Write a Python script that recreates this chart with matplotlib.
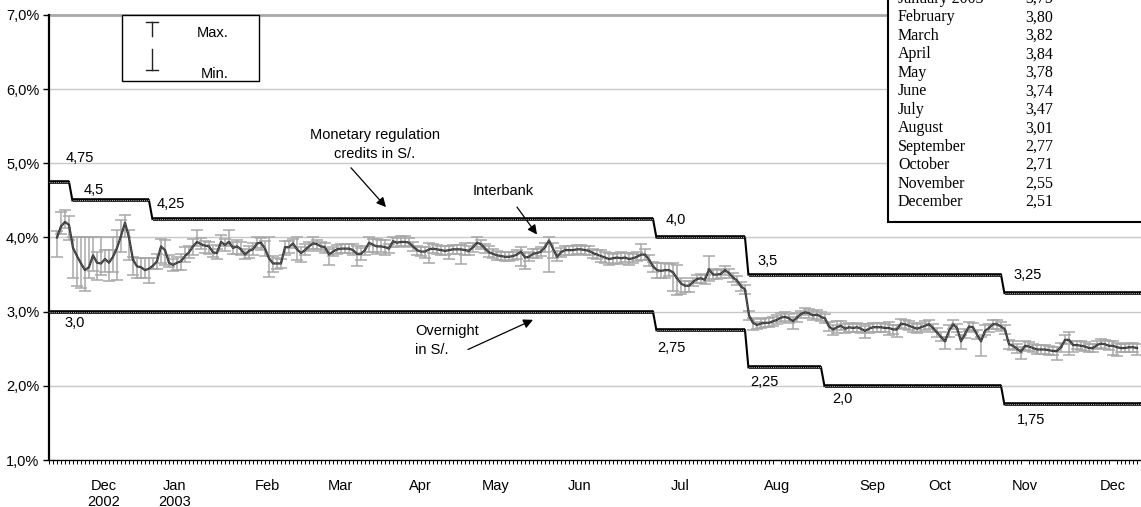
import numpy as np
import matplotlib.pyplot as plt
from matplotlib.patches import Rectangle
from matplotlib.lines import Line2D

plt.rcParams['font.family'] = ['Liberation Sans', 'DejaVu Sans']

# business days on the x axis, day 0 = late Nov 2002
n_days = 273
first_ib_day = 2

# daily interbank rate (%), from day 2 onward
interbank = [
    4.00, 4.15, 4.21, 4.17, 3.86, 3.75, 3.65, 3.56, 3.60, 3.76,
    3.66, 3.65, 3.71, 3.66, 3.74, 3.86, 4.02, 4.20, 4.00, 3.70,
    3.61, 3.60, 3.56, 3.58, 3.62, 3.68, 3.88, 3.83, 3.66, 3.63,
    3.66, 3.68, 3.75, 3.80, 3.88, 3.94, 3.91, 3.89, 3.88, 3.80,
    3.79, 3.94, 3.90, 3.94, 3.86, 3.88, 3.84, 3.77, 3.82, 3.84,
    3.92, 3.93, 3.85, 3.72, 3.65, 3.65, 3.65, 3.87, 3.87, 3.92,
    3.84, 3.79, 3.83, 3.88, 3.92, 3.91, 3.88, 3.87, 3.77, 3.81,
    3.84, 3.85, 3.85, 3.85, 3.83, 3.78, 3.78, 3.83, 3.93, 3.90,
    3.88, 3.88, 3.87, 3.85, 3.95, 3.93, 3.94, 3.94, 3.93, 3.88,
    3.83, 3.81, 3.81, 3.84, 3.85, 3.84, 3.83, 3.82, 3.83, 3.84,
    3.84, 3.84, 3.83, 3.82, 3.87, 3.93, 3.91, 3.85, 3.80, 3.78,
    3.76, 3.75, 3.74, 3.74, 3.75, 3.77, 3.81, 3.73, 3.74, 3.78,
    3.79, 3.81, 3.87, 3.96, 3.85, 3.74, 3.80, 3.83, 3.83, 3.83,
    3.84, 3.84, 3.83, 3.82, 3.79, 3.77, 3.75, 3.73, 3.71, 3.72,
    3.73, 3.72, 3.73, 3.71, 3.72, 3.74, 3.77, 3.77, 3.70, 3.61,
    3.56, 3.55, 3.56, 3.56, 3.53, 3.45, 3.38, 3.35, 3.35, 3.40,
    3.44, 3.45, 3.43, 3.57, 3.50, 3.50, 3.51, 3.56, 3.52, 3.46,
    3.42, 3.34, 3.30, 2.95, 2.85, 2.82, 2.84, 2.85, 2.85, 2.87,
    2.89, 2.92, 2.93, 2.91, 2.87, 2.92, 2.97, 2.99, 2.98, 2.95,
    2.96, 2.93, 2.91, 2.80, 2.76, 2.79, 2.81, 2.77, 2.79, 2.78,
    2.79, 2.77, 2.74, 2.77, 2.79, 2.79, 2.79, 2.78, 2.78, 2.76,
    2.76, 2.84, 2.83, 2.81, 2.79, 2.77, 2.79, 2.81, 2.83, 2.78,
    2.72, 2.66, 2.60, 2.74, 2.83, 2.78, 2.60, 2.70, 2.80, 2.79,
    2.69, 2.60, 2.74, 2.78, 2.83, 2.83, 2.80, 2.76, 2.56, 2.54,
    2.50, 2.46, 2.54, 2.53, 2.51, 2.49, 2.49, 2.49, 2.48, 2.47,
    2.47, 2.52, 2.62, 2.62, 2.55, 2.55, 2.54, 2.53, 2.51, 2.51,
    2.55, 2.57, 2.56, 2.54, 2.54, 2.52, 2.51, 2.51, 2.52, 2.52,
    2.51,
]
# distance to the daily max / min, in basis points
spread_up = [
    9, 20, 16, 12, 14, 25, 35, 44, 40, 24,
    14, 35, 12, 17, 26, 24, 22, 10, 10, 4,
    12, 12, 16, 14, 10, 10, 10, 14, 10, 8,
    8, 10, 12, 8, 10, 16, 8, 6, 6, 10,
    6, 10, 8, 16, 8, 8, 10, 8, 6, 8,
    8, 6, 10, 28, 10, 8, 6, 8, 8, 6,
    16, 8, 8, 6, 8, 6, 6, 6, 8, 6,
    6, 6, 6, 6, 8, 10, 8, 6, 8, 8,
    10, 8, 10, 6, 6, 6, 8, 8, 6, 6,
    6, 6, 6, 8, 6, 6, 6, 6, 6, 6,
    6, 6, 10, 6, 6, 8, 6, 6, 8, 6,
    6, 6, 6, 6, 6, 6, 6, 6, 6, 6,
    6, 6, 6, 4, 8, 8, 6, 6, 6, 6,
    6, 6, 6, 6, 6, 6, 8, 8, 8, 6,
    6, 8, 6, 8, 6, 6, 14, 8, 6, 6,
    10, 10, 10, 8, 12, 18, 8, 6, 6, 6,
    6, 6, 6, 18, 8, 6, 6, 6, 6, 6,
    6, 6, 6, 6, 6, 4, 6, 6, 6, 6,
    6, 6, 6, 6, 6, 6, 4, 6, 6, 6,
    6, 6, 6, 6, 6, 8, 6, 6, 6, 6,
    6, 6, 6, 6, 6, 6, 6, 6, 8, 6,
    6, 6, 6, 6, 6, 6, 6, 6, 6, 6,
    6, 6, 6, 8, 6, 6, 8, 6, 6, 6,
    6, 6, 8, 6, 6, 6, 6, 6, 6, 6,
    6, 6, 6, 6, 6, 6, 6, 6, 6, 6,
    6, 6, 6, 10, 6, 6, 6, 6, 6, 6,
    6, 6, 6, 6, 6, 6, 6, 6, 6, 6,
    6,
]
spread_dn = [
    26, 10, 8, 20, 40, 40, 33, 28, 14, 21,
    23, 15, 17, 25, 20, 43, 22, 20, 30, 20,
    15, 14, 10, 20, 5, 10, 22, 20, 6, 8,
    10, 12, 8, 8, 12, 6, 6, 10, 10, 6,
    8, 6, 8, 6, 8, 10, 8, 6, 10, 8,
    6, 10, 10, 25, 12, 8, 6, 10, 8, 6,
    14, 12, 6, 6, 8, 6, 6, 8, 14, 6,
    6, 6, 6, 6, 6, 16, 8, 6, 12, 10,
    10, 8, 10, 6, 8, 6, 6, 6, 6, 6,
    6, 6, 8, 18, 6, 6, 6, 6, 12, 6,
    6, 20, 6, 6, 6, 6, 6, 6, 6, 6,
    6, 6, 6, 6, 6, 6, 20, 16, 6, 6,
    6, 6, 6, 42, 12, 6, 6, 6, 6, 6,
    6, 6, 6, 6, 6, 6, 8, 8, 8, 8,
    8, 8, 6, 8, 6, 6, 8, 8, 8, 8,
    10, 10, 10, 8, 25, 22, 14, 8, 8, 6,
    6, 6, 6, 15, 6, 6, 6, 6, 6, 6,
    6, 6, 6, 6, 10, 6, 6, 6, 6, 6,
    6, 6, 6, 6, 10, 6, 6, 4, 6, 6,
    6, 6, 6, 6, 8, 8, 6, 6, 6, 6,
    6, 6, 10, 6, 6, 6, 6, 6, 10, 6,
    10, 6, 6, 6, 6, 6, 6, 6, 6, 6,
    6, 6, 10, 8, 6, 6, 10, 6, 6, 6,
    6, 20, 6, 6, 6, 6, 6, 6, 6, 6,
    6, 10, 6, 6, 6, 6, 6, 6, 6, 6,
    12, 6, 6, 20, 10, 6, 6, 6, 6, 6,
    6, 6, 6, 6, 12, 12, 6, 6, 6, 6,
    10,
]

# monetary regulation credit rate and overnight deposit rate (first day of each level)
credit_start = [0, 6, 26, 152, 175, 239]
credit_rate = [4.75, 4.5, 4.25, 4.0, 3.5, 3.25]
overnight_start = [0, 152, 175, 194, 239]
overnight_rate = [3.0, 2.75, 2.25, 2.0, 1.75]

# month labels
month_labels = ['Dec\n2002', 'Jan\n2003', 'Feb', 'Mar', 'Apr', 'May', 'Jun',
                'Jul', 'Aug', 'Sep', 'Oct', 'Nov', 'Dec']
month_pos = [13.75, 31.5, 54.5, 72.75, 92.75, 111.75, 132.75,
             157.75, 182, 205.75, 222.75, 244, 266]

# monthly averages box
avg_months = ['January 2003', 'February', 'March', 'April', 'May', 'June',
              'July', 'August', 'September', 'October', 'November', 'December']
avg_rate = [3.75, 3.80, 3.82, 3.84, 3.78, 3.74, 3.47, 3.01, 2.77, 2.71, 2.55, 2.51]

W, H = 1141, 507
fig = plt.figure(figsize=(W / 100, H / 100), dpi=100)
ax = fig.add_axes([49 / W, (H - 460) / H, 1092 / W, 445 / H])


def fx(px):
    return px / W


def fy(py):
    return 1 - py / H


def rate_text(v):
    s = f'{v:.2f}'.rstrip('0')
    if s.endswith('.'):
        s += '0'
    return s.replace('.', ',')


# interbank with max/min bars
ib = np.array(interbank)
days = np.arange(first_ib_day, first_ib_day + len(ib))
ax.errorbar(days, ib, yerr=[np.array(spread_dn) / 100, np.array(spread_up) / 100],
            fmt='none', ecolor='#a8a8a8', elinewidth=1.1, capsize=4, capthick=1.1, zorder=2)
ax.plot(days, ib, color='#333333', lw=1.6, zorder=3)
ax.plot(days, ib, color='#9a9a9a', lw=0.5, ls=(0, (1, 1.5)), zorder=3)


def draw_steps(starts, rates, label_off):
    ends = starts[1:] + [n_days]
    for i, (s, e, r) in enumerate(zip(starts, ends, rates)):
        last = e - 1 if i < len(rates) - 1 else e
        xs = np.arange(s, last + 1)
        ax.plot(xs, np.full(len(xs), r), color='black', lw=2.6,
                solid_capstyle='butt', zorder=4)
        ax.plot(xs, np.full(len(xs), r), color='#bdbdbd', lw=0.7,
                ls=(0, (1, 1.2)), zorder=5)
        if i < len(rates) - 1:
            ax.plot([last, e - 0.15], [r, rates[i + 1]], color='black', lw=1.5, zorder=4)
        dx, dy = label_off[i]
        ax.text(s + dx, r + dy, rate_text(r), fontsize=10.5, ha='left', va='center', zorder=6)


draw_steps(credit_start, credit_rate,
           [(4.25, 0.32), (2.75, 0.14), (1, 0.20), (2.25, 0.24), (2, 0.18), (2, 0.25)])
draw_steps(overnight_start, overnight_rate,
           [(3.75, -0.15), (0, -0.24), (0.25, -0.20), (1.75, -0.18), (3, -0.21)])

# axes
ax.set_xlim(0, n_days)
ax.set_ylim(1.0, 7.0)
ax.set_yticks(np.arange(1, 8))
ax.set_yticklabels([f'{v:.1f}%'.replace('.', ',') for v in np.arange(1, 8)], fontsize=10.5)
for v in range(2, 7):
    ax.axhline(v, color='#c8c8c8', lw=1, zorder=0)
ax.axhline(7, color='#a8a8a8', lw=2, zorder=0, clip_on=False)
ax.set_xticks(month_pos)
ax.set_xticklabels(month_labels, fontsize=10.5, linespacing=1.15)
ax.set_xticks(np.arange(0, n_days + 1), minor=True)
ax.tick_params(axis='x', which='major', length=0, pad=14)
ax.tick_params(axis='x', which='minor', length=3, width=0.7, direction='out')
ax.tick_params(axis='y', length=4, width=1, pad=3)
for side in ['top', 'right']:
    ax.spines[side].set_visible(False)
ax.spines['left'].set_linewidth(1.6)
ax.spines['bottom'].set_linewidth(1.0)

# annotations
arrow = dict(arrowstyle='-|>', color='black', lw=0.9, mutation_scale=14, shrinkA=0, shrinkB=0)
ax.text(81.5, 5.26, 'Monetary regulation\ncredits in S/.', ha='center', va='center',
        fontsize=10.5, linespacing=1.45)
ax.annotate('', xy=(84.25, 4.41), xytext=(75.5, 4.94), arrowprops=arrow)
ax.text(113.5, 4.63, 'Interbank', ha='center', va='center', fontsize=10.5)
ax.annotate('', xy=(122, 4.04), xytext=(117, 4.41), arrowprops=arrow)
ax.text(91.5, 2.61, 'Overnight\nin S/.', ha='left', va='center', fontsize=10.5, linespacing=1.45)
ax.annotate('', xy=(121, 2.89), xytext=(104.75, 2.49), arrowprops=arrow)

# max / min key
fig.add_artist(Rectangle((fx(122), fy(81)), fx(259) - fx(122), fy(15) - fy(81),
                         transform=fig.transFigure, fc='white', ec='black', lw=1, zorder=10))
for seg in [((146, 158), (22, 22)), ((152, 152), (22, 36)),
            ((152, 152), (49, 70)), ((146, 158), (70, 70))]:
    fig.add_artist(Line2D([fx(seg[0][0]), fx(seg[0][1])], [fy(seg[1][0]), fy(seg[1][1])],
                          transform=fig.transFigure, color='#222222', lw=1, zorder=11))
fig.text(fx(213), fy(33), 'Max.', ha='center', va='center', fontsize=10.5, zorder=11)
fig.text(fx(215), fy(74), 'Min.', ha='center', va='center', fontsize=10.5, zorder=11)

# monthly averages box
fig.add_artist(Rectangle((fx(888), fy(222)), 0.5, 0.6, transform=fig.transFigure,
                         fc='white', ec='black', lw=1.5, zorder=10))
for i, (m, r) in enumerate(zip(avg_months, avg_rate)):
    yy = fy(-1 + i * 18.45)
    fig.text(fx(898), yy, m, ha='left', va='center', fontsize=11.5,
             family=['Liberation Serif', 'DejaVu Serif'], zorder=11)
    fig.text(fx(1025), yy, f'{r:.2f}'.replace('.', ','), ha='left', va='center',
             fontsize=11.5, family=['Liberation Serif', 'DejaVu Serif'], zorder=11)

fig.savefig('out.png', dpi=100)
